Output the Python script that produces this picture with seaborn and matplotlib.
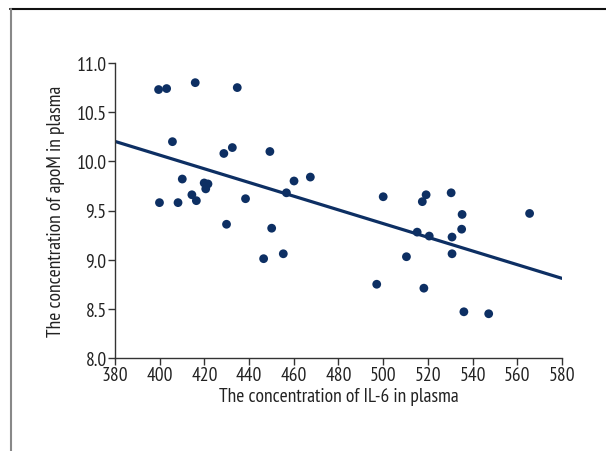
import matplotlib
matplotlib.use("Agg")
import matplotlib.pyplot as plt
import seaborn as sns
import numpy as np
import pandas as pd
from matplotlib.lines import Line2D

il6 = [399.5, 403.1, 415.9, 434.7, 405.7, 428.7, 432.5, 449.3, 410.1, 399.9,
       408.2, 414.4, 416.4, 419.9, 421.6, 420.6, 438.4, 429.9, 450.1, 446.5,
       455.3, 456.7, 460.1, 467.4, 500.0, 497.1, 510.4, 515.2, 517.5, 519.2,
       518.2, 520.6, 530.4, 530.8, 530.8, 535.3, 535.1, 536.1, 547.2, 565.5]
apom = [10.73, 10.74, 10.80, 10.75, 10.20, 10.08, 10.14, 10.10, 9.82, 9.58,
        9.58, 9.66, 9.60, 9.78, 9.77, 9.72, 9.62, 9.36, 9.32, 9.01,
        9.06, 9.68, 9.80, 9.84, 9.64, 8.75, 9.03, 9.28, 9.59, 9.66,
        8.71, 9.24, 9.68, 9.23, 9.06, 9.46, 9.31, 8.47, 8.45, 9.47]

x_ticks = [380, 400, 420, 440, 460, 480, 500, 520, 540, 560, 580]
y_ticks = [8.0, 8.5, 9.0, 9.5, 10.0, 10.5, 11.0]
x_label = "The concentration of IL-6 in plasma"
y_label = "The concentration of apoM in plasma"

df = pd.DataFrame({"il6": il6, "apom": apom})

sns.set_theme(style="ticks")
plt.rcParams["font.family"] = ["PT Sans Narrow", "Fira Sans Condensed", "Archivo Narrow", "DejaVu Sans"]

navy = "#0d2f63"
fig = plt.figure(figsize=(6.06, 4.52), dpi=100)
ax = fig.add_axes([115/606, 1-359/452, (562-115)/606, (359-64)/452])
ax.set_xlim(380, 580)
ax.set_ylim(8.0, 11.0)

sns.regplot(data=df, x="il6", y="apom", ax=ax, ci=None, truncate=False,
            scatter_kws=dict(s=40, color=navy, edgecolor="none", alpha=1, clip_on=False),
            line_kws=dict(color=navy, lw=2.3))

ax.set_xlim(380, 580)
ax.set_ylim(8.0, 11.0)
ax.set_xticks(x_ticks)
ax.set_yticks(y_ticks)
ax.set_yticklabels([f"{v:.1f}" for v in y_ticks])
ax.tick_params(direction="out", length=5, width=1, color="#333333",
               labelsize=14, pad=1, labelcolor="#222222")
for s in ["top", "right"]:
    ax.spines[s].set_visible(False)
for s in ["left", "bottom"]:
    ax.spines[s].set_color("#333333")
    ax.spines[s].set_linewidth(1)
ax.set_xlabel(x_label, fontsize=14, color="#222222", labelpad=2)
ax.set_ylabel(y_label, fontsize=14, color="#222222", labelpad=8)

fig.add_artist(Line2D([10/606, 1.0], [1-9.5/452, 1-9.5/452], transform=fig.transFigure,
                      color="#111111", lw=1.5))
fig.add_artist(Line2D([11/606, 11/606], [0, 1-9.5/452], transform=fig.transFigure,
                      color="#888888", lw=1.5))

fig.savefig("out.png", dpi=100)
